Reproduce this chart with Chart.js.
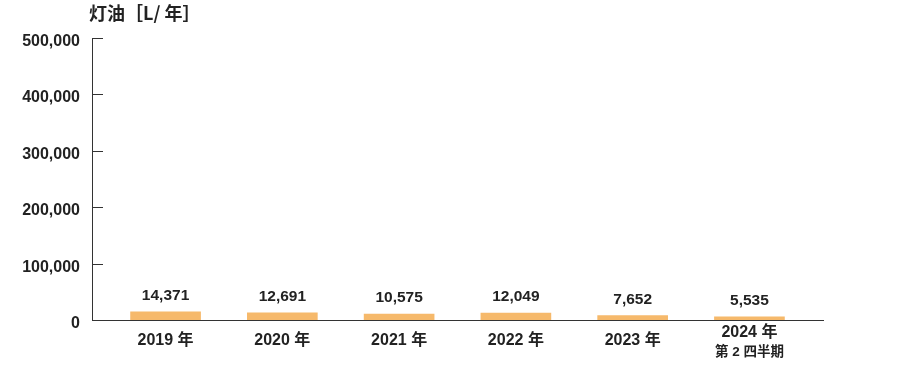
<!DOCTYPE html>
<html><head><meta charset="utf-8">
<script src="https://cdn.jsdelivr.net/npm/chart.js@4/dist/chart.umd.min.js"></script>
<style>html,body{margin:0;padding:0;background:#fff}#w{width:900px;height:365px}</style>
</head><body><div id="w"><canvas id="c"></canvas></div>
<script>
const categories = ["2019 年","2020 年","2021 年","2022 年","2023 年","2024 年"];
const subLabels = ["","","","","","第 2 四半期"];
const values = [14371, 12691, 10575, 12049, 7652, 5535];
const yTicks = [0, 100000, 200000, 300000, 400000, 500000];
const yTitle = "灯油［L/ 年］";

const FONT = "'Liberation Sans','Noto Sans CJK JP',sans-serif";
const TXT = '#222';

const overlay = {
  id: 'overlay',
  afterDraw(chart) {
    const ctx = chart.ctx, ca = chart.chartArea;
    const ys = chart.scales.y, xs = chart.scales.x;
    ctx.save();
    // inward y ticks
    ctx.strokeStyle = '#333'; ctx.lineWidth = 1;
    yTicks.forEach(v => {
      const y = Math.round(ys.getPixelForValue(v)) + 0.5;
      ctx.beginPath(); ctx.moveTo(ca.left, y); ctx.lineTo(ca.left + 11, y); ctx.stroke();
    });
    ctx.fillStyle = TXT;
    // y tick labels
    ctx.font = "bold 16px " + FONT; ctx.textAlign = 'right'; ctx.textBaseline = 'middle';
    yTicks.forEach(v => ctx.fillText(v.toLocaleString('en-US'), ca.left - 12, ys.getPixelForValue(v) + 3.5));
    // title
    ctx.font = "bold 18px 'Noto Sans CJK JP','Liberation Sans',sans-serif";
    ctx.textAlign = 'left'; ctx.textBaseline = 'middle';
    ctx.fillText(yTitle, ca.left - 3, 13);
    // value labels
    ctx.font = "bold 15.5px " + FONT; ctx.textAlign = 'center'; ctx.textBaseline = 'middle';
    chart.getDatasetMeta(0).data.forEach((b, i) => {
      ctx.fillText(values[i].toLocaleString('en-US'), b.x, b.y - 16);
    });
    // x labels
    categories.forEach((c, i) => {
      const x = xs.getPixelForValue(i);
      if (subLabels[i]) {
        ctx.font = "bold 16px " + FONT;
        ctx.fillText(c, x, 333);
        ctx.font = "bold 13.5px " + FONT;
        ctx.fillText(subLabels[i], x, 352);
      } else {
        ctx.font = "bold 16px " + FONT;
        ctx.fillText(c, x, 341);
      }
    });
    ctx.restore();
  }
};

new Chart(document.getElementById('c'), {
  type: 'bar',
  data: {
    datasets: [{
      data: values.map((v, i) => ({x: i, y: v})),
      backgroundColor: '#f6b96b',
      barThickness: 70,
      borderWidth: 0
    }]
  },
  options: {
    responsive: true, maintainAspectRatio: false, animation: false,
    layout: {padding: {top: 38, right: 77, left: 0, bottom: 0}},
    plugins: {legend: {display: false}, tooltip: {enabled: false}},
    scales: {
      x: {
        type: 'linear', min: -0.63, max: 5.63, offset: false,
        afterBuildTicks(s) { s.ticks = categories.map((_, i) => ({value: i})); },
        afterFit(s) { s.height = 45; },
        grid: {display: false, drawTicks: false},
        border: {display: true, color: '#333', width: 1},
        ticks: {display: false}
      },
      y: {
        min: 0, max: 500000,
        afterBuildTicks(s) { s.ticks = yTicks.map(v => ({value: v})); },
        afterFit(s) { s.width = 92; },
        grid: {display: false, drawTicks: false},
        border: {display: true, color: '#333', width: 1},
        ticks: {display: false}
      }
    }
  },
  plugins: [overlay]
});
</script></body></html>
